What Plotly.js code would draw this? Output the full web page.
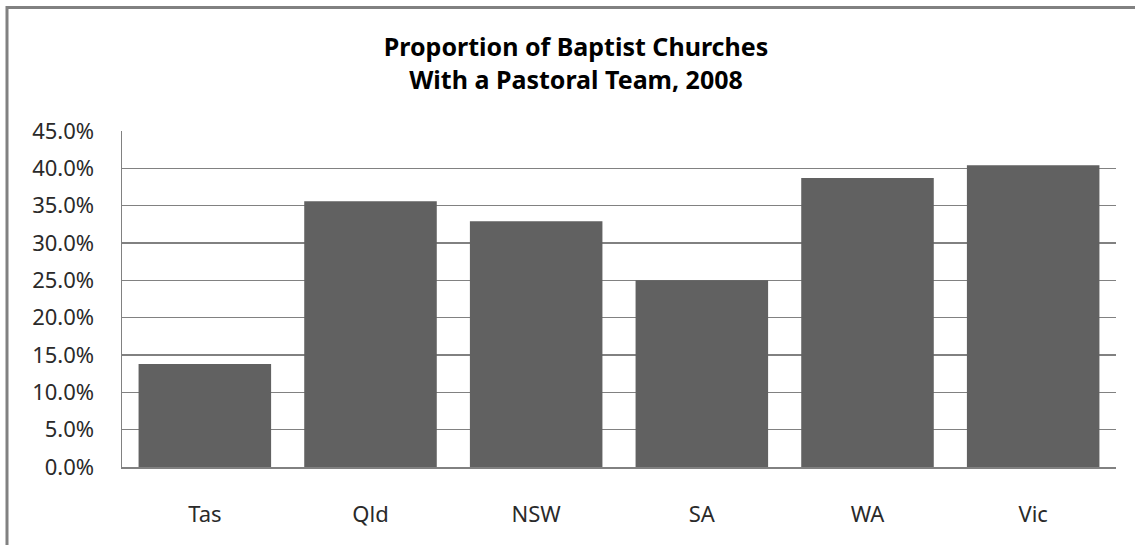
<!DOCTYPE html>
<html>
<head>
<meta charset="utf-8">
<script src="https://cdn.plot.ly/plotly-3.0.1.min.js"></script>
<style>
  html, body { margin: 0; padding: 0; background: #ffffff; }
  #chart { width: 1135px; height: 545px; }
</style>
</head>
<body>
<div id="chart"></div>
<script>
// States, in the order they are charted
const states = ['Tas', 'Qld', 'NSW', 'SA', 'WA', 'Vic'];
// Share of Baptist churches with a pastoral team, 2008
const teamShare = [0.138, 0.356, 0.329, 0.250, 0.387, 0.404];
// Value axis ticks
const tickValues = [0, 0.05, 0.10, 0.15, 0.20, 0.25, 0.30, 0.35, 0.40, 0.45];

const labelFont = { family: 'Noto Sans, DejaVu Sans, sans-serif', size: 22, color: '#2a2a2a' };
const grey = '#818181';

const trace = {
  type: 'bar',
  x: states,
  y: teamShare,
  marker: { color: '#616161', line: { width: 0 } },
  hoverinfo: 'x+y'
};

const layout = {
  width: 1135,
  height: 545,
  paper_bgcolor: '#ffffff',
  plot_bgcolor: '#ffffff',
  margin: { l: 122, r: 19, t: 131, b: 78 },
  bargap: 0.2,
  showlegend: false,
  title: {
    text: '<b>Proportion of Baptist Churches</b><br><b>With a Pastoral Team, 2008</b>',
    font: { family: 'Noto Sans, DejaVu Sans, sans-serif', size: 25, color: '#000000' },
    xref: 'container',
    x: 0.5075,
    xanchor: 'center',
    yref: 'container',
    y: 0.897,
    yanchor: 'top'
  },
  xaxis: {
    type: 'category',
    showgrid: false,
    showline: true,
    linecolor: grey,
    linewidth: 1.5,
    ticks: '',
    tickfont: labelFont,
    ticklabelstandoff: 27,
    fixedrange: true
  },
  yaxis: {
    range: [0, 0.45],
    tickvals: tickValues,
    tickformat: '.1%',
    showgrid: true,
    gridcolor: grey,
    gridwidth: 1.5,
    zeroline: false,
    showline: true,
    linecolor: grey,
    linewidth: 1.5,
    ticks: '',
    tickfont: labelFont,
    ticklabelstandoff: 22,
    fixedrange: true
  },
  shapes: [{
    // chart-area border
    type: 'rect',
    xref: 'paper', yref: 'paper',
    x0: -0.1157, x1: 1.06,
    y0: -0.26, y1: 1.3676,
    line: { color: grey, width: 3 },
    fillcolor: 'rgba(0,0,0,0)',
    layer: 'above'
  }]
};

Plotly.newPlot('chart', [trace], layout, { displayModeBar: false, staticPlot: true });
</script>
</body>
</html>
